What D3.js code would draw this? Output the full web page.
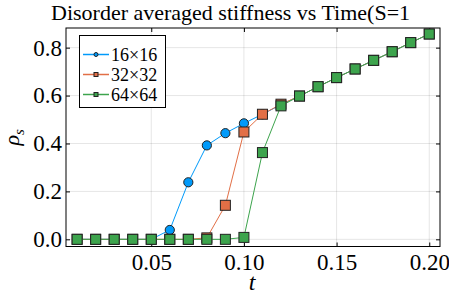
<!DOCTYPE html>
<html>
<head>
<meta charset="utf-8">
<script src="https://cdn.jsdelivr.net/npm/d3@7"></script>
<style>
  body { margin: 0; background: #fff; }
  svg { display: block; }
  svg text { font-family: "Liberation Serif", "Times New Roman", serif; fill: #000; }
</style>
</head>
<body>
<div id="chart"></div>
<script>
// data
var times = [0.01, 0.02, 0.03, 0.04, 0.05, 0.06, 0.07, 0.08, 0.09, 0.10,
             0.11, 0.12, 0.13, 0.14, 0.15, 0.16, 0.17, 0.18, 0.19, 0.20]
var rho16 = [0, 0, 0, 0, 0, 0.039, 0.238, 0.392, 0.443, 0.484,
             0.522, 0.562, 0.598, 0.637, 0.675, 0.711, 0.747, 0.783, 0.821, 0.857]
var rho32 = [0, 0, 0, 0, 0, 0, 0, 0.006, 0.142, 0.448,
             0.522, 0.564, 0.598, 0.637, 0.675, 0.711, 0.747, 0.783, 0.821, 0.857]
var rho64 = [0, 0, 0, 0, 0, 0, 0, 0, 0, 0.008,
             0.362, 0.557, 0.598, 0.637, 0.675, 0.711, 0.747, 0.783, 0.821, 0.857]
var seriesNames = ['16×16', '32×32', '64×64']
var xTicks = [0.05, 0.10, 0.15, 0.20]
var yTicks = [0.0, 0.2, 0.4, 0.6, 0.8]

var W = 449
var H = 299
var frame = { left: 66, right: 440, top: 28, bottom: 246.5 }

var series = [
  { name: seriesNames[0], values: rho16, color: '#009AFA', shape: 'circle' },
  { name: seriesNames[1], values: rho32, color: '#E26F46', shape: 'square' },
  { name: seriesNames[2], values: rho64, color: '#3DA44D', shape: 'square' }
]

var svg = d3.select('#chart')
  .append('svg')
  .attr('width', W)
  .attr('height', H)

var x = d3.scaleLinear().domain([0.004, 0.2058]).range([frame.left, frame.right])
var y = d3.scaleLinear().domain([-0.030, 0.882]).range([frame.bottom, frame.top])

// grid
svg.append('g')
  .selectAll('line')
  .data(xTicks)
  .enter()
  .append('line')
  .attr('x1', d => x(d)).attr('x2', d => x(d))
  .attr('y1', frame.top).attr('y2', frame.bottom)
  .attr('stroke', '#000').attr('stroke-opacity', 0.1).attr('stroke-width', 1)

svg.append('g')
  .selectAll('line')
  .data(yTicks)
  .enter()
  .append('line')
  .attr('x1', frame.left).attr('x2', frame.right)
  .attr('y1', d => y(d)).attr('y2', d => y(d))
  .attr('stroke', '#000').attr('stroke-opacity', 0.1).attr('stroke-width', 1)

// axes: ticks pointing inward on all sides
var tickLen = 4
svg.append('g')
  .attr('transform', `translate(0,${frame.bottom})`)
  .call(d3.axisBottom(x).tickValues(xTicks).tickSize(-tickLen).tickFormat(d3.format('.2f')).tickPadding(7))
  .call(g => g.select('.domain').remove())
  .call(g => g.selectAll('text').style('font-size', '23px').style('font-family', '"Liberation Serif", serif'))
svg.append('g')
  .attr('transform', `translate(0,${frame.top})`)
  .call(d3.axisTop(x).tickValues(xTicks).tickSize(-tickLen).tickFormat(''))
  .call(g => g.select('.domain').remove())
svg.append('g')
  .attr('transform', `translate(${frame.left},0)`)
  .call(d3.axisLeft(y).tickValues(yTicks).tickSize(-tickLen).tickFormat(d3.format('.1f')).tickPadding(4))
  .call(g => g.select('.domain').remove())
  .call(g => g.selectAll('text').style('font-size', '23px').style('font-family', '"Liberation Serif", serif'))
svg.append('g')
  .attr('transform', `translate(${frame.right},0)`)
  .call(d3.axisRight(y).tickValues(yTicks).tickSize(-tickLen).tickFormat(''))
  .call(g => g.select('.domain').remove())

svg.append('rect')
  .attr('x', frame.left).attr('y', frame.top)
  .attr('width', frame.right - frame.left).attr('height', frame.bottom - frame.top)
  .attr('fill', 'none').attr('stroke', '#000').attr('stroke-width', 1)

// lines and markers
var line = d3.line()
  .x((d, i) => x(times[i]))
  .y(d => y(d))

series.forEach(s => {
  var g = svg.append('g')
  g.append('path')
    .attr('d', line(s.values))
    .attr('fill', 'none')
    .attr('stroke', s.color)
    .attr('stroke-width', 1)
  if (s.shape === 'circle') {
    g.selectAll('circle')
      .data(s.values)
      .enter()
      .append('circle')
      .attr('cx', (d, i) => x(times[i]))
      .attr('cy', d => y(d))
      .attr('r', 4.6)
      .attr('fill', s.color)
      .attr('stroke', '#222')
      .attr('stroke-width', 1)
  } else {
    g.selectAll('rect')
      .data(s.values)
      .enter()
      .append('rect')
      .attr('x', (d, i) => x(times[i]) - 5)
      .attr('y', d => y(d) - 5)
      .attr('width', 10)
      .attr('height', 10)
      .attr('fill', s.color)
      .attr('stroke', '#222')
      .attr('stroke-width', 1)
  }
})

// legend
var legend = svg.append('g')
legend.append('rect')
  .attr('x', 79.5).attr('y', 35.5)
  .attr('width', 86).attr('height', 72)
  .attr('fill', '#fff').attr('stroke', '#000').attr('stroke-width', 1)
series.forEach((s, i) => {
  var ly = 54.5 + i * 20
  legend.append('line')
    .attr('x1', 83).attr('x2', 109)
    .attr('y1', ly).attr('y2', ly)
    .attr('stroke', s.color).attr('stroke-width', 1.5)
  if (s.shape === 'circle') {
    legend.append('circle')
      .attr('cx', 96).attr('cy', ly).attr('r', 2)
      .attr('fill', s.color).attr('stroke', '#222').attr('stroke-width', 1)
  } else {
    legend.append('rect')
      .attr('x', 94).attr('y', ly - 2).attr('width', 4).attr('height', 4)
      .attr('fill', s.color).attr('stroke', '#222').attr('stroke-width', 1)
  }
  legend.append('text')
    .attr('x', 111).attr('y', ly + 6)
    .style('font-size', '18px')
    .text(s.name)
})

// title and axis labels
svg.append('text')
  .attr('x', 51).attr('y', 20)
  .style('font-size', '22px')
  .text('Disorder averaged stiffness vs Time(S=1')

svg.append('text')
  .attr('x', 252).attr('y', 290)
  .attr('text-anchor', 'middle')
  .style('font-size', '24px')
  .style('font-style', 'italic')
  .text('t')

var yl = svg.append('text')
  .attr('transform', `translate(19,${(frame.top + frame.bottom) / 2}) rotate(-90)`)
  .attr('text-anchor', 'middle')
  .style('font-size', '22px')
yl.append('tspan').style('font-style', 'italic').text('ρ')
yl.append('tspan').style('font-size', '15px').style('font-style', 'italic').attr('dy', 5).text('s')
</script>
</body>
</html>
